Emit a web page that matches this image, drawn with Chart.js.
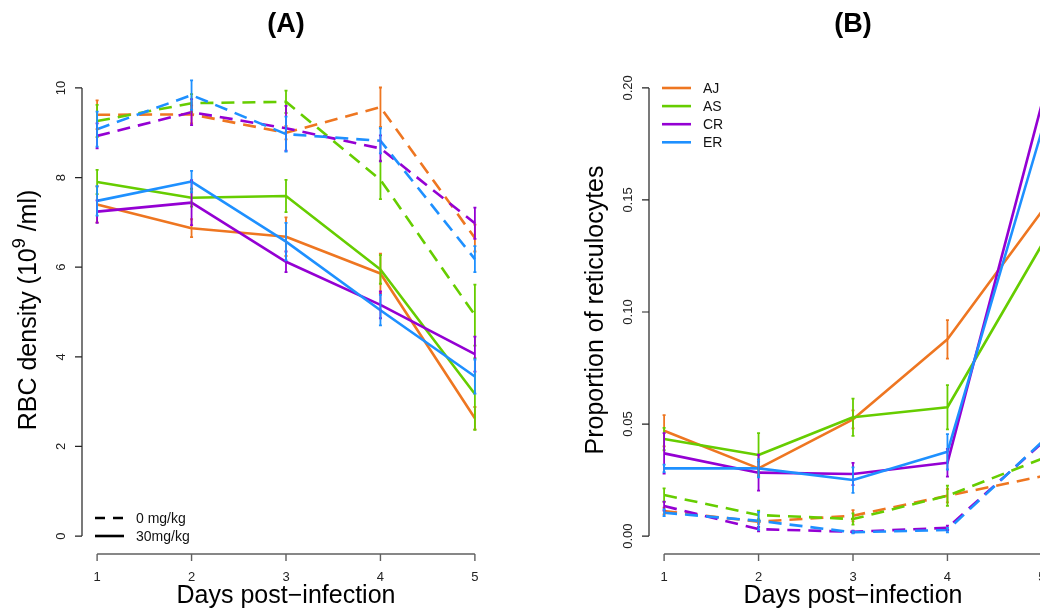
<!DOCTYPE html>
<html>
<head>
<meta charset="utf-8">
<script src="https://cdn.jsdelivr.net/npm/chart.js@4.4.1/dist/chart.umd.min.js"></script>
<style>
    html, body { margin: 0; padding: 0; width: 1040px; height: 612px; overflow: hidden; background: #fff; }
    .panel { position: absolute; top: 0; }
    #wrapA { left: 0; width: 520px; height: 612px; }
    #wrapB { left: 520px; width: 560px; height: 612px; }
</style>
</head>
<body>
<div class="panel" id="wrapA"><canvas id="chartA" width="520" height="612"></canvas></div>
<div class="panel" id="wrapB"><canvas id="chartB" width="560" height="612"></canvas></div>
<script>
// ============================================================================
// Two R-style panels: RBC density (A) and reticulocyte proportion (B)
// ============================================================================

const days = [1, 2, 3, 4, 5];
const strains = ['AJ', 'AS', 'CR', 'ER'];
const strainColors = ['#EE7621', '#66CD00', '#9400D3', '#1E90FF'];
const doseLabels = ['0 mg/kg', '30mg/kg'];

// Panel A - RBC density, 0 mg/kg (dashed)
const rbcAJ0 = [9.40, 9.41, 9.00, 9.57, 6.65];
const rbcAS0 = [9.26, 9.66, 9.69, 7.95, 4.93];
const rbcCR0 = [8.93, 9.46, 9.10, 8.65, 6.98];
const rbcER0 = [9.08, 9.84, 8.97, 8.82, 6.18];
const rbcAJ0Err = [0.32, 0.20, 0.15, 0.44, 0.30];
const rbcAS0Err = [0.36, 0.20, 0.25, 0.43, 0.68];
const rbcCR0Err = [0.28, 0.29, 0.50, 0.29, 0.35];
const rbcER0Err = [0.39, 0.33, 0.39, 0.28, 0.29];

// Panel A - RBC density, 30 mg/kg (solid)
const rbcAJ30 = [7.40, 6.87, 6.68, 5.86, 2.63];
const rbcAS30 = [7.90, 7.55, 7.59, 5.95, 3.17];
const rbcCR30 = [7.24, 7.44, 6.12, 5.16, 4.06];
const rbcER30 = [7.48, 7.91, 6.57, 5.04, 3.56];
const rbcAJ30Err = [0.40, 0.20, 0.43, 0.44, 0.25];
const rbcAS30Err = [0.27, 0.20, 0.36, 0.32, 0.80];
const rbcCR30Err = [0.25, 0.50, 0.23, 0.30, 0.39];
const rbcER30Err = [0.33, 0.24, 0.42, 0.34, 0.38];

// Panel B - reticulocytes, 0 mg/kg (dashed)
const retAJ0 = [0.0112, 0.0064, 0.0091, 0.0180, 0.0267];
const retAS0 = [0.0183, 0.0094, 0.0076, 0.0180, 0.0345];
const retCR0 = [0.0134, 0.0031, 0.0019, 0.0037, 0.0415];
const retER0 = [0.0104, 0.0068, 0.0017, 0.0027, 0.0420];
const retAJ0Err = [0.0015, 0.0010, 0.0025, 0.0030, 0.0030];
const retAS0Err = [0.0030, 0.0020, 0.0025, 0.0045, 0.0030];
const retCR0Err = [0.0020, 0.0010, 0.0005, 0.0010, 0.0030];
const retER0Err = [0.0015, 0.0040, 0.0005, 0.0010, 0.0030];

// Panel B - reticulocytes, 30 mg/kg (solid)
const retAJ30 = [0.0470, 0.0302, 0.0521, 0.0878, 0.1450];
const retAS30 = [0.0433, 0.0362, 0.0530, 0.0575, 0.1300];
const retCR30 = [0.0369, 0.0283, 0.0277, 0.0327, 0.1930];
const retER30 = [0.0302, 0.0302, 0.0250, 0.0376, 0.1810];
const retAJ30Err = [0.0070, 0.0030, 0.0040, 0.0086, 0.0100];
const retAS30Err = [0.0050, 0.0097, 0.0083, 0.0099, 0.0100];
const retCR30Err = [0.0090, 0.0080, 0.0050, 0.0062, 0.0100];
const retER30Err = [0.0017, 0.0040, 0.0057, 0.0079, 0.0100];

// Tick labels
const dayTicks = [1, 2, 3, 4, 5];
const rbcTicks = [0, 2, 4, 6, 8, 10];
const retTicks = [0, 0.05, 0.10, 0.15, 0.20];
const retTickLabels = ['0.00', '0.05', '0.10', '0.15', '0.20'];

const FONT = "'Liberation Sans', Arial, Helvetica, sans-serif";
const DASH = [13, 8];

function makeSet(values, errors, color, dashed, order) {
    return {
        data: days.map((d, i) => ({ x: d, y: values[i] })),
        errors: errors,
        borderColor: color,
        borderWidth: 2.6,
        borderDash: dashed ? DASH : [],
        borderJoinStyle: 'round',
        pointRadius: 0,
        pointHoverRadius: 0,
        tension: 0,
        fill: false,
        order: order
    };
}

// Draws error bars, R-like axes, titles and legend
function makeRPlugin(cfg) {
    return {
        id: 'rStyle',
        afterDatasetsDraw(chart) {
            const ctx = chart.ctx;
            const xs = chart.scales.x;
            const ys = chart.scales.y;
            const area = chart.chartArea;

            // Error bars
            chart.data.datasets.forEach(ds => {
                ctx.save();
                ctx.strokeStyle = ds.borderColor;
                ctx.lineWidth = 1.8;
                ds.data.forEach((p, i) => {
                    const e = ds.errors[i];
                    const px = xs.getPixelForValue(p.x);
                    const top = ys.getPixelForValue(p.y + e);
                    const bot = ys.getPixelForValue(p.y - e);
                    ctx.beginPath();
                    ctx.moveTo(px, top); ctx.lineTo(px, bot);
                    ctx.moveTo(px - 1.5, top); ctx.lineTo(px + 1.5, top);
                    ctx.moveTo(px - 1.5, bot); ctx.lineTo(px + 1.5, bot);
                    ctx.stroke();
                });
                ctx.restore();
            });

            ctx.save();
            // X axis (below plot region)
            const xa = xs.getPixelForValue(cfg.xTicks[0]);
            const xb = xs.getPixelForValue(cfg.xTicks[cfg.xTicks.length - 1]);
            const axY = area.bottom;
            ctx.strokeStyle = '#606060';
            ctx.lineWidth = 1.4;
            ctx.beginPath();
            ctx.moveTo(xa, axY); ctx.lineTo(xb, axY);
            cfg.xTicks.forEach(t => {
                const px = xs.getPixelForValue(t);
                ctx.moveTo(px, axY); ctx.lineTo(px, axY + 7);
            });
            ctx.stroke();
            ctx.fillStyle = '#222';
            ctx.font = '13px ' + FONT;
            ctx.textAlign = 'center';
            ctx.textBaseline = 'alphabetic';
            cfg.xTicks.forEach(t => {
                ctx.fillText(String(t), xs.getPixelForValue(t), axY + 27);
            });

            // Y axis (left of plot region)
            const ya = ys.getPixelForValue(cfg.yTicks[0]);
            const yb = ys.getPixelForValue(cfg.yTicks[cfg.yTicks.length - 1]);
            const axX = area.left;
            ctx.strokeStyle = '#222';
            ctx.lineWidth = 1.2;
            ctx.beginPath();
            ctx.moveTo(axX, ya); ctx.lineTo(axX, yb);
            cfg.yTicks.forEach(t => {
                const py = ys.getPixelForValue(t);
                ctx.moveTo(axX, py); ctx.lineTo(axX - 7, py);
            });
            ctx.stroke();
            cfg.yTicks.forEach((t, i) => {
                const py = ys.getPixelForValue(t);
                ctx.save();
                ctx.translate(axX - 17.5, py);
                ctx.rotate(-Math.PI / 2);
                ctx.textAlign = 'center';
                ctx.fillText(cfg.yTickLabels[i], 0, 0);
                ctx.restore();
            });

            // Panel title
            const midX = (area.left + area.right) / 2;
            ctx.fillStyle = '#000';
            ctx.font = 'bold 27px ' + FONT;
            ctx.textAlign = 'center';
            ctx.fillText(cfg.title, midX, 32);

            // X title
            ctx.font = '25px ' + FONT;
            ctx.fillText(cfg.xTitle, xs.getPixelForValue(3), 603);

            // Y title (with optional superscript part)
            ctx.save();
            ctx.translate(axX - 46, (area.top + area.bottom) / 2 - 2);
            ctx.rotate(-Math.PI / 2);
            ctx.textAlign = 'left';
            const parts = cfg.yTitle.map(p => ({
                text: p.text,
                font: (p.sup ? '18px ' : '25px ') + FONT,
                dy: p.sup ? -11 : 0
            }));
            let total = 0;
            parts.forEach(p => { ctx.font = p.font; p.w = ctx.measureText(p.text).width; total += p.w; });
            let cx = -total / 2;
            parts.forEach(p => {
                ctx.font = p.font;
                ctx.fillText(p.text, cx, p.dy);
                cx += p.w;
            });
            ctx.restore();

            // Legend
            const lg = cfg.legend;
            ctx.font = '14px ' + FONT;
            ctx.textAlign = 'left';
            ctx.textBaseline = 'middle';
            lg.items.forEach((it, i) => {
                const y = lg.y + i * lg.step;
                ctx.strokeStyle = it.color;
                ctx.lineWidth = 2.6;
                ctx.setLineDash(it.dash);
                ctx.beginPath();
                ctx.moveTo(lg.x, y); ctx.lineTo(lg.x + 29, y);
                ctx.stroke();
                ctx.setLineDash([]);
                ctx.fillStyle = '#111';
                ctx.fillText(it.label, lg.x + 41, y + 1);
            });
            ctx.restore();
        }
    };
}

function baseOptions(padding, yMin, yMax) {
    return {
        responsive: false,
        animation: false,
        devicePixelRatio: 1,
        layout: { padding: padding },
        scales: {
            x: { type: 'linear', min: 0.84, max: 5.16, display: false },
            y: { type: 'linear', min: yMin, max: yMax, display: false }
        },
        plugins: {
            legend: { display: false },
            tooltip: { enabled: false }
        },
        events: []
    };
}

// Panel A
const rbc0 = [rbcAJ0, rbcAS0, rbcCR0, rbcER0];
const rbc0Err = [rbcAJ0Err, rbcAS0Err, rbcCR0Err, rbcER0Err];
const rbc30 = [rbcAJ30, rbcAS30, rbcCR30, rbcER30];
const rbc30Err = [rbcAJ30Err, rbcAS30Err, rbcCR30Err, rbcER30Err];
const setsA = [];
strains.forEach((s, k) => setsA.push(makeSet(rbc0[k], rbc0Err[k], strainColors[k], true, 20 - k)));
strains.forEach((s, k) => setsA.push(makeSet(rbc30[k], rbc30Err[k], strainColors[k], false, 10 - k)));

new Chart(document.getElementById('chartA'), {
    type: 'line',
    data: { datasets: setsA },
    options: baseOptions({ left: 82, right: 30, top: 70, bottom: 58 }, -0.4, 10.4),
    plugins: [makeRPlugin({
        xTicks: dayTicks,
        yTicks: rbcTicks,
        yTickLabels: rbcTicks.map(String),
        title: '(A)',
        xTitle: 'Days post\u2212infection',
        yTitle: [{ text: 'RBC density (10' }, { text: '9', sup: true }, { text: ' /ml)' }],
        legend: {
            x: 95, y: 518, step: 18,
            items: [
                { label: doseLabels[0], color: '#000', dash: [10, 8] },
                { label: doseLabels[1], color: '#000', dash: [] }
            ]
        }
    })]
});

// Panel B
const ret0 = [retAJ0, retAS0, retCR0, retER0];
const ret0Err = [retAJ0Err, retAS0Err, retCR0Err, retER0Err];
const ret30 = [retAJ30, retAS30, retCR30, retER30];
const ret30Err = [retAJ30Err, retAS30Err, retCR30Err, retER30Err];
const setsB = [];
strains.forEach((s, k) => setsB.push(makeSet(ret0[k], ret0Err[k], strainColors[k], true, 20 - k)));
strains.forEach((s, k) => setsB.push(makeSet(ret30[k], ret30Err[k], strainColors[k], false, 10 - k)));

new Chart(document.getElementById('chartB'), {
    type: 'line',
    data: { datasets: setsB },
    options: baseOptions({ left: 129, right: 23, top: 70, bottom: 58 }, -0.008, 0.208),
    plugins: [makeRPlugin({
        xTicks: dayTicks,
        yTicks: retTicks,
        yTickLabels: retTickLabels,
        title: '(B)',
        xTitle: 'Days post\u2212infection',
        yTitle: [{ text: 'Proportion of reticulocytes' }],
        legend: {
            x: 142, y: 88, step: 18.1,
            items: strains.map((s, k) => ({ label: s, color: strainColors[k], dash: [] }))
        }
    })]
});
</script>
</body>
</html>
